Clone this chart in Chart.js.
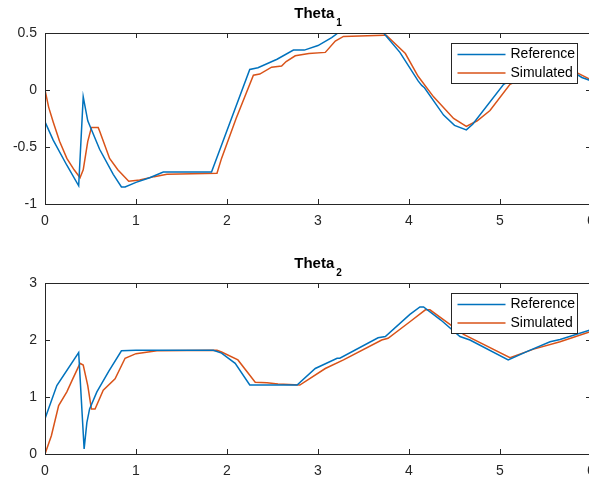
<!DOCTYPE html>
<html>
<head>
<meta charset="utf-8">
<script src="https://cdn.jsdelivr.net/npm/chart.js@4.4.1/dist/chart.umd.min.js"></script>
<style>
  body { margin: 0; background: #fff; overflow: hidden; width: 589px; height: 479px; position: relative; }
  canvas { position: absolute; left: 0; }
  #theta1Chart { top: 0; }
  #theta2Chart { top: 250px; }
</style>
</head>
<body>
<canvas id="theta1Chart" width="600" height="234"></canvas>
<canvas id="theta2Chart" width="600" height="234"></canvas>
<script>
// Theta 1 (top)
let theta1RefTime = [0, 0.09, 0.24, 0.37, 0.42, 0.47, 0.6, 0.75, 0.84, 0.88, 1.0, 1.15, 1.3, 1.83, 2.25, 2.34, 2.55, 2.73, 2.85, 3.0, 3.15, 3.22, 3.72, 3.9, 4.1, 4.14, 4.17, 4.38, 4.5, 4.63, 4.7, 5.04, 5.2, 5.5, 5.8, 5.9, 6.0];
let theta1Ref = [-0.28, -0.44, -0.66, -0.84, -0.06, -0.27, -0.52, -0.74, -0.85, -0.85, -0.81, -0.77, -0.72, -0.72, 0.18, 0.195, 0.27, 0.35, 0.35, 0.39, 0.46, 0.5, 0.5, 0.33, 0.08, 0.04, 0.02, -0.22, -0.31, -0.35, -0.3, 0.05, 0.12, 0.18, 0.16, 0.11, 0.08];
let theta1SimTime = [0, 0.04, 0.09, 0.16, 0.24, 0.32, 0.385, 0.42, 0.47, 0.51, 0.585, 0.6, 0.71, 0.8, 0.92, 1.04, 1.2, 1.34, 1.89, 1.94, 2.1, 2.29, 2.36, 2.49, 2.6, 2.65, 2.75, 2.9, 3.08, 3.19, 3.28, 3.72, 3.75, 3.96, 4.1, 4.27, 4.49, 4.63, 4.75, 4.89, 5.11, 5.3, 5.6, 5.85, 6.0];
let theta1Sim = [0, -0.15, -0.28, -0.45, -0.6, -0.7, -0.77, -0.7, -0.45, -0.33, -0.33, -0.36, -0.6, -0.7, -0.8, -0.79, -0.76, -0.74, -0.73, -0.6, -0.25, 0.13, 0.14, 0.2, 0.21, 0.25, 0.3, 0.32, 0.33, 0.43, 0.47, 0.48, 0.48, 0.32, 0.12, -0.06, -0.25, -0.32, -0.27, -0.18, 0.05, 0.12, 0.16, 0.15, 0.09];

// Theta 2 (bottom)
let theta2RefTime = [0, 0.13, 0.37, 0.43, 0.46, 0.49, 0.57, 0.7, 0.84, 1.0, 1.85, 1.94, 2.09, 2.25, 2.77, 2.97, 3.21, 3.24, 3.66, 3.74, 4.01, 4.12, 4.16, 4.35, 4.56, 4.67, 5.09, 5.3, 5.55, 5.66, 6.0];
let theta2Ref = [0.62, 1.2, 1.78, 0.09, 0.55, 0.79, 1.09, 1.45, 1.81, 1.82, 1.82, 1.77, 1.59, 1.21, 1.21, 1.5, 1.68, 1.68, 2.04, 2.06, 2.45, 2.58, 2.58, 2.35, 2.06, 2.0, 1.65, 1.8, 1.97, 2.01, 2.18];
let theta2SimTime = [0, 0.07, 0.15, 0.24, 0.3, 0.385, 0.42, 0.47, 0.51, 0.55, 0.64, 0.77, 0.88, 1.0, 1.23, 1.89, 1.94, 2.12, 2.31, 2.44, 2.56, 2.8, 3.08, 3.28, 3.7, 3.77, 4.01, 4.18, 4.23, 4.6, 5.11, 5.37, 5.66, 6.0];
let theta2Sim = [0, 0.32, 0.85, 1.09, 1.3, 1.59, 1.56, 1.2, 0.79, 0.79, 1.12, 1.32, 1.68, 1.76, 1.81, 1.82, 1.79, 1.65, 1.26, 1.25, 1.23, 1.21, 1.5, 1.65, 2.0, 2.03, 2.32, 2.53, 2.53, 2.1, 1.69, 1.84, 1.97, 2.15];

let seriesLabels = ['Reference', 'Simulated'];
let seriesColors = ['#0072BD', '#D95319'];
let xTicks = [0, 1, 2, 3, 4, 5, 6];

const axisColor = '#262626';
const fontFamily = '"Liberation Sans", Arial, sans-serif';

function toPoints(times, values) {
    return times.map((t, i) => ({x: t, y: values[i]}));
}

// matlab style box with inward ticks
const boxPlugin = {
    id: 'box',
    afterDatasetsDraw(chart) {
        const ctx = chart.ctx;
        const a = chart.chartArea;
        const xs = chart.scales.x, ys = chart.scales.y;
        ctx.save();
        ctx.strokeStyle = axisColor;
        ctx.lineWidth = 1;
        ctx.beginPath();
        xs.ticks.forEach(t => {
            let px = Math.round(xs.getPixelForValue(t.value)) + 0.5;
            ctx.moveTo(px, a.bottom); ctx.lineTo(px, a.bottom - 5);
            ctx.moveTo(px, a.top); ctx.lineTo(px, a.top + 5);
        });
        ys.ticks.forEach(t => {
            let py = Math.round(ys.getPixelForValue(t.value)) + 0.5;
            ctx.moveTo(a.left, py); ctx.lineTo(a.left + 5, py);
            ctx.moveTo(a.right, py); ctx.lineTo(a.right - 5, py);
        });
        ctx.stroke();
        ctx.strokeRect(Math.round(a.left) + 0.5, Math.round(a.top) + 0.5, Math.round(a.right - a.left), Math.round(a.bottom - a.top));
        ctx.restore();
    }
};

// legend box inside the axes, top right
const legendBoxPlugin = {
    id: 'legendBox',
    afterDraw(chart) {
        const ctx = chart.ctx;
        const a = chart.chartArea;
        const w = 126, h = 40;
        const bx = Math.round(a.right - 14 - w) + 0.5;
        const by = Math.round(a.top + 10) + 0.5;
        ctx.save();
        ctx.fillStyle = '#fff';
        ctx.fillRect(bx, by, w, h);
        ctx.strokeStyle = axisColor;
        ctx.lineWidth = 1;
        ctx.strokeRect(bx, by, w, h);
        ctx.font = '14px ' + fontFamily;
        ctx.textBaseline = 'middle';
        ctx.fillStyle = '#000';
        chart.data.datasets.forEach((ds, i) => {
            let yy = by + 11 + i * 18.5;
            ctx.strokeStyle = ds.borderColor;
            ctx.lineWidth = 1.5;
            ctx.beginPath();
            ctx.moveTo(bx + 6, yy);
            ctx.lineTo(bx + 54, yy);
            ctx.stroke();
            ctx.fillText(ds.label, bx + 59, yy);
        });
        ctx.restore();
    }
};

// title with a real subscript, like matlab's Theta_1
const subTitlePlugin = {
    id: 'subTitle',
    afterDraw(chart, args, opts) {
        const ctx = chart.ctx;
        const a = chart.chartArea;
        ctx.save();
        ctx.fillStyle = '#000';
        ctx.textBaseline = 'alphabetic';
        ctx.font = 'bold 15px ' + fontFamily;
        let w1 = ctx.measureText(opts.main).width;
        ctx.font = 'bold 10px ' + fontFamily;
        let w2 = ctx.measureText(opts.sub).width;
        let gap = 2;
        let x0 = (a.left + a.right) / 2 - (w1 + gap + w2) / 2;
        ctx.font = 'bold 15px ' + fontFamily;
        ctx.fillText(opts.main, x0, a.top - 15);
        ctx.font = 'bold 10px ' + fontFamily;
        ctx.fillText(opts.sub, x0 + w1 + gap, a.top - 7.5);
        ctx.restore();
    }
};

function makeChart(canvasId, titleMain, titleSub, refTime, ref, simTime, sim, yMin, yMax, yStep) {
    let ctx = document.getElementById(canvasId).getContext('2d');
    return new Chart(ctx, {
        type: 'line',
        data: {
            datasets: [
                {
                    label: seriesLabels[0],
                    data: toPoints(refTime, ref),
                    borderColor: seriesColors[0],
                    borderWidth: 1.5,
                    pointRadius: 0,
                    tension: 0
                },
                {
                    label: seriesLabels[1],
                    data: toPoints(simTime, sim),
                    borderColor: seriesColors[1],
                    borderWidth: 1.5,
                    pointRadius: 0,
                    tension: 0
                }
            ]
        },
        options: {
            responsive: false,
            animation: false,
            devicePixelRatio: 1,
            layout: { padding: { left: 0, right: 9, top: 33, bottom: 0 } },
            plugins: {
                legend: { display: false },
                tooltip: { enabled: false },
                title: { display: false },
                subTitle: { main: titleMain, sub: titleSub }
            },
            scales: {
                x: {
                    type: 'linear',
                    min: 0,
                    max: 6,
                    afterBuildTicks: s => { s.ticks = xTicks.map(v => ({value: v})); },
                    grid: { display: false, drawTicks: false },
                    border: { display: false },
                    ticks: {
                        color: axisColor,
                        padding: 9,
                        maxRotation: 0,
                        font: { family: fontFamily, size: 14 },
                        callback: v => String(v)
                    },
                    afterFit: s => { s.height = 30; s.paddingLeft = 0; s.paddingRight = 0; }
                },
                y: {
                    min: yMin,
                    max: yMax,
                    grid: { display: false, drawTicks: false },
                    border: { display: false },
                    ticks: {
                        stepSize: yStep,
                        color: axisColor,
                        padding: 8,
                        font: { family: fontFamily, size: 14 },
                        callback: v => String(v)
                    },
                    afterFit: s => { s.width = 45; }
                }
            }
        },
        plugins: [boxPlugin, legendBoxPlugin, subTitlePlugin]
    });
}

makeChart('theta1Chart', 'Theta', '1', theta1RefTime, theta1Ref, theta1SimTime, theta1Sim, -1, 0.5, 0.5);
makeChart('theta2Chart', 'Theta', '2', theta2RefTime, theta2Ref, theta2SimTime, theta2Sim, 0, 3, 1);
</script>
</body>
</html>
